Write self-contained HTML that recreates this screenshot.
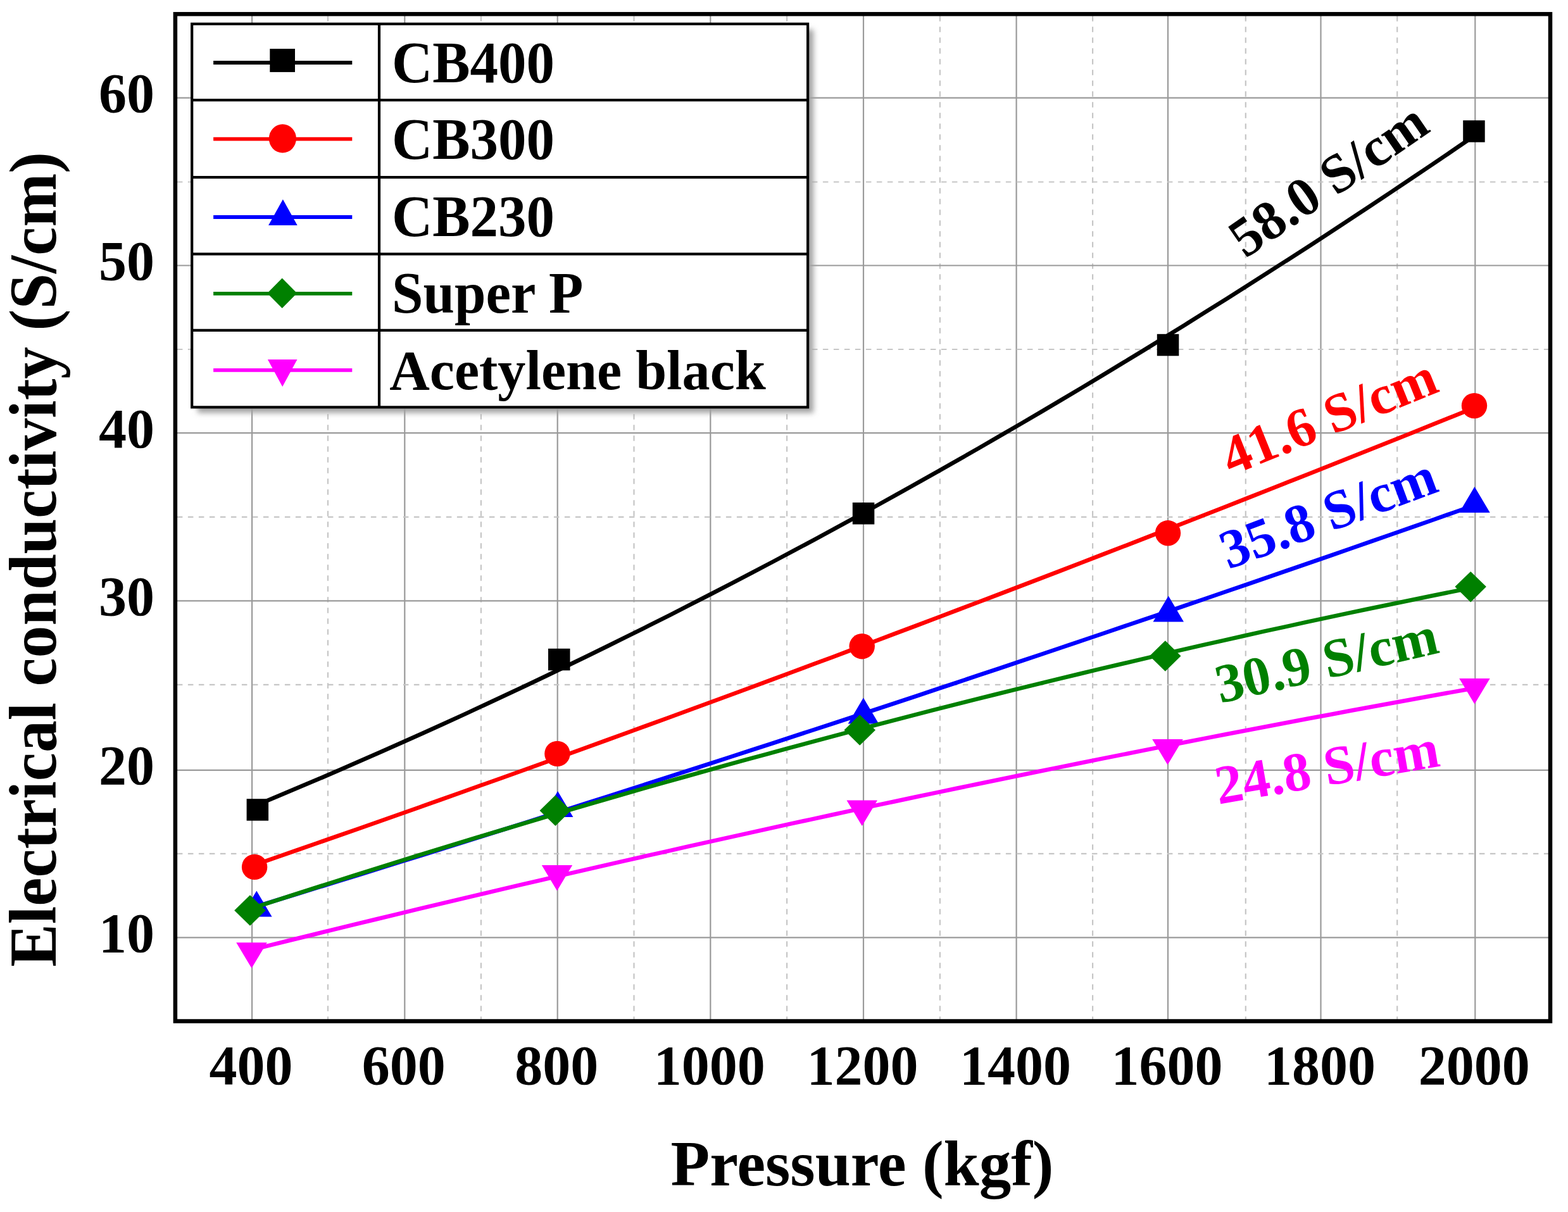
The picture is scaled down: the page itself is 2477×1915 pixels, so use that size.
<!DOCTYPE html>
<html><head><meta charset="utf-8"><title>Electrical conductivity vs pressure</title>
<style>html,body{margin:0;padding:0;background:#fff;overflow:hidden}svg{display:block}</style>
</head><body>
<svg width="2477" height="1915" viewBox="0 0 2477 1915">
<defs><filter id="sh" x="-5%" y="-5%" width="110%" height="110%"><feGaussianBlur stdDeviation="4.5"/></filter></defs>
<style>
.gs{stroke:#9a9a9a;stroke-width:2.2}
.gd{stroke:#c6c6c6;stroke-width:2.2;stroke-dasharray:8.5 8.5}
text{font-family:'Liberation Serif', 'Times New Roman', serif;font-weight:bold}
.tick{font-size:88px}
.title{font-size:101px}
.leg{font-size:89px}
.ann{font-size:87px}
</style>
<rect width="2477" height="1915" fill="#fff"/>
<line x1="398.1" y1="22.2" x2="398.1" y2="1613.5" class="gs"/>
<line x1="518.0" y1="25.2" x2="518.0" y2="1613.5" class="gd"/>
<line x1="639.3" y1="22.2" x2="639.3" y2="1613.5" class="gs"/>
<line x1="759.9" y1="25.2" x2="759.9" y2="1613.5" class="gd"/>
<line x1="880.7" y1="22.2" x2="880.7" y2="1613.5" class="gs"/>
<line x1="1001.5" y1="25.2" x2="1001.5" y2="1613.5" class="gd"/>
<line x1="1122.3" y1="22.2" x2="1122.3" y2="1613.5" class="gs"/>
<line x1="1243.1" y1="25.2" x2="1243.1" y2="1613.5" class="gd"/>
<line x1="1364.0" y1="22.2" x2="1364.0" y2="1613.5" class="gs"/>
<line x1="1484.9" y1="25.2" x2="1484.9" y2="1613.5" class="gd"/>
<line x1="1605.6" y1="22.2" x2="1605.6" y2="1613.5" class="gs"/>
<line x1="1726.1" y1="25.2" x2="1726.1" y2="1613.5" class="gd"/>
<line x1="1845.0" y1="22.2" x2="1845.0" y2="1613.5" class="gs"/>
<line x1="1967.8" y1="25.2" x2="1967.8" y2="1613.5" class="gd"/>
<line x1="2086.5" y1="22.2" x2="2086.5" y2="1613.5" class="gs"/>
<line x1="2207.2" y1="25.2" x2="2207.2" y2="1613.5" class="gd"/>
<line x1="2330.3" y1="22.2" x2="2330.3" y2="1613.5" class="gs"/>
<line x1="276.9" y1="1481.4" x2="2449.0" y2="1481.4" class="gs"/>
<line x1="279.9" y1="1348.8" x2="2449.0" y2="1348.8" class="gd"/>
<line x1="276.9" y1="1216.8" x2="2449.0" y2="1216.8" class="gs"/>
<line x1="279.9" y1="1081.8" x2="2449.0" y2="1081.8" class="gd"/>
<line x1="276.9" y1="949.3" x2="2449.0" y2="949.3" class="gs"/>
<line x1="279.9" y1="816.8" x2="2449.0" y2="816.8" class="gd"/>
<line x1="276.9" y1="684.2" x2="2449.0" y2="684.2" class="gs"/>
<line x1="279.9" y1="552.0" x2="2449.0" y2="552.0" class="gd"/>
<line x1="276.9" y1="419.5" x2="2449.0" y2="419.5" class="gs"/>
<line x1="279.9" y1="287.5" x2="2449.0" y2="287.5" class="gd"/>
<line x1="276.9" y1="154.6" x2="2449.0" y2="154.6" class="gs"/>
<polyline points="406.9,1271.4 439.5,1257.8 472.0,1244.1 504.6,1230.3 537.2,1216.3 569.7,1202.1 602.3,1187.8 634.9,1173.3 667.4,1158.7 700.0,1144.0 732.6,1129.1 765.1,1114.0 797.7,1098.8 830.3,1083.5 862.8,1068.0 895.4,1052.3 928.0,1036.5 960.6,1020.5 993.1,1004.4 1025.7,988.2 1058.3,971.8 1090.8,955.2 1123.4,938.5 1156.0,921.7 1188.5,904.7 1221.1,887.5 1253.7,870.2 1286.2,852.8 1318.8,835.2 1351.4,817.4 1383.9,799.5 1416.5,781.4 1449.1,763.2 1481.6,744.9 1514.2,726.4 1546.8,707.7 1579.3,688.9 1611.9,670.0 1644.5,650.9 1677.0,631.6 1709.6,612.2 1742.2,592.6 1774.7,572.9 1807.3,553.1 1839.9,533.1 1872.5,512.9 1905.0,492.6 1937.6,472.2 1970.2,451.6 2002.7,430.8 2035.3,409.9 2067.9,388.9 2100.4,367.7 2133.0,346.3 2165.6,324.8 2198.1,303.1 2230.7,281.3 2263.3,259.4 2295.8,237.3 2328.4,215.0" fill="none" stroke="#000000" stroke-width="6.5" stroke-linejoin="round"/>
<rect x="389.6" y="1262.2" width="34.5" height="34.5" fill="#000000"/>
<rect x="866.0" y="1024.8" width="34.5" height="34.5" fill="#000000"/>
<rect x="1346.8" y="794.0" width="34.5" height="34.5" fill="#000000"/>
<rect x="1827.8" y="527.8" width="34.5" height="34.5" fill="#000000"/>
<rect x="2311.2" y="190.2" width="34.5" height="34.5" fill="#000000"/>
<polyline points="402.1,1366.6 434.8,1355.3 467.4,1343.9 500.1,1332.5 532.7,1321.1 565.4,1309.7 598.1,1298.2 630.7,1286.7 663.4,1275.2 696.0,1263.6 728.7,1252.0 761.4,1240.3 794.0,1228.7 826.7,1217.0 859.3,1205.3 892.0,1193.5 924.6,1181.7 957.3,1169.9 990.0,1158.0 1022.6,1146.1 1055.3,1134.2 1087.9,1122.2 1120.6,1110.3 1153.3,1098.2 1185.9,1086.2 1218.6,1074.1 1251.2,1062.0 1283.9,1049.8 1316.6,1037.7 1349.2,1025.4 1381.9,1013.2 1414.5,1000.9 1447.2,988.6 1479.9,976.3 1512.5,963.9 1545.2,951.5 1577.8,939.1 1610.5,926.6 1643.2,914.1 1675.8,901.6 1708.5,889.0 1741.1,876.4 1773.8,863.8 1806.5,851.1 1839.1,838.4 1871.8,825.7 1904.4,813.0 1937.1,800.2 1969.7,787.4 2002.4,774.5 2035.1,761.6 2067.7,748.7 2100.4,735.8 2133.0,722.8 2165.7,709.8 2198.4,696.7 2231.0,683.7 2263.7,670.5 2296.3,657.4 2329.0,644.2" fill="none" stroke="#ff0000" stroke-width="6.5" stroke-linejoin="round"/>
<circle cx="402.1" cy="1369.9" r="20.2" fill="#ff0000"/>
<circle cx="880.4" cy="1190.9" r="20.2" fill="#ff0000"/>
<circle cx="1361.7" cy="1021.2" r="20.2" fill="#ff0000"/>
<circle cx="1845.0" cy="842.3" r="20.2" fill="#ff0000"/>
<circle cx="2329.0" cy="641.1" r="20.2" fill="#ff0000"/>
<polyline points="405.3,1432.1 437.9,1422.1 470.5,1412.1 503.1,1402.0 535.7,1391.9 568.4,1381.8 601.0,1371.7 633.6,1361.5 666.2,1351.3 698.8,1341.1 731.4,1330.9 764.0,1320.6 796.6,1310.3 829.3,1300.0 861.9,1289.7 894.5,1279.3 927.1,1268.9 959.7,1258.5 992.3,1248.1 1024.9,1237.6 1057.5,1227.1 1090.1,1216.6 1122.8,1206.1 1155.4,1195.5 1188.0,1184.9 1220.6,1174.3 1253.2,1163.7 1285.8,1153.0 1318.4,1142.3 1351.0,1131.6 1383.7,1120.8 1416.3,1110.1 1448.9,1099.3 1481.5,1088.4 1514.1,1077.6 1546.7,1066.7 1579.3,1055.8 1611.9,1044.9 1644.6,1034.0 1677.2,1023.0 1709.8,1012.0 1742.4,1001.0 1775.0,989.9 1807.6,978.9 1840.2,967.8 1872.8,956.6 1905.4,945.5 1938.1,934.3 1970.7,923.1 2003.3,911.9 2035.9,900.6 2068.5,889.4 2101.1,878.1 2133.7,866.7 2166.3,855.4 2199.0,844.0 2231.6,832.6 2264.2,821.2 2296.8,809.7 2329.4,798.2" fill="none" stroke="#0000ff" stroke-width="6.5" stroke-linejoin="round"/>
<polygon points="405.3,1407.5 429.6,1448.5 381.1,1448.5" fill="#0000ff"/>
<polygon points="881.1,1250.1 905.4,1291.1 856.9,1291.1" fill="#0000ff"/>
<polygon points="1363.9,1102.5 1388.2,1143.5 1339.7,1143.5" fill="#0000ff"/>
<polygon points="1845.8,941.4 1870.0,982.4 1821.5,982.4" fill="#0000ff"/>
<polygon points="2329.4,769.1 2353.7,810.1 2305.2,810.1" fill="#0000ff"/>
<polyline points="395.0,1436.1 427.7,1425.5 460.4,1414.9 493.0,1404.4 525.7,1394.0 558.4,1383.6 591.1,1373.3 623.8,1363.1 656.5,1352.9 689.1,1342.9 721.8,1332.9 754.5,1322.9 787.2,1313.1 819.9,1303.3 852.5,1293.6 885.2,1283.9 917.9,1274.3 950.6,1264.8 983.3,1255.4 1015.9,1246.0 1048.6,1236.7 1081.3,1227.5 1114.0,1218.3 1146.7,1209.2 1179.4,1200.2 1212.0,1191.3 1244.7,1182.4 1277.4,1173.6 1310.1,1164.8 1342.8,1156.2 1375.4,1147.6 1408.1,1139.1 1440.8,1130.6 1473.5,1122.2 1506.2,1113.9 1538.8,1105.7 1571.5,1097.5 1604.2,1089.4 1636.9,1081.4 1669.6,1073.4 1702.3,1065.5 1734.9,1057.7 1767.6,1050.0 1800.3,1042.3 1833.0,1034.7 1865.7,1027.2 1898.3,1019.7 1931.0,1012.3 1963.7,1005.0 1996.4,997.7 2029.1,990.6 2061.7,983.4 2094.4,976.4 2127.1,969.4 2159.8,962.5 2192.5,955.7 2225.2,949.0 2257.8,942.3 2290.5,935.6 2323.2,929.1" fill="none" stroke="#008000" stroke-width="6.5" stroke-linejoin="round"/>
<polygon points="395.0,1414.3 419.8,1438.6 395.0,1462.8 370.2,1438.6" fill="#008000"/>
<polygon points="877.4,1256.5 902.1,1280.7 877.4,1305.0 852.6,1280.7" fill="#008000"/>
<polygon points="1358.2,1129.3 1383.0,1153.6 1358.2,1177.8 1333.5,1153.6" fill="#008000"/>
<polygon points="1840.8,1012.2 1865.5,1036.4 1840.8,1060.7 1816.0,1036.4" fill="#008000"/>
<polygon points="2323.2,902.9 2347.9,927.1 2323.2,951.4 2298.4,927.1" fill="#008000"/>
<polyline points="397.5,1500.8 430.2,1492.6 463.0,1484.5 495.7,1476.5 528.5,1468.4 561.2,1460.4 594.0,1452.5 626.7,1444.6 659.5,1436.7 692.2,1428.9 724.9,1421.1 757.7,1413.3 790.4,1405.6 823.2,1397.9 855.9,1390.3 888.7,1382.7 921.4,1375.1 954.1,1367.6 986.9,1360.1 1019.6,1352.7 1052.4,1345.3 1085.1,1337.9 1117.9,1330.6 1150.6,1323.3 1183.4,1316.1 1216.1,1308.9 1248.8,1301.7 1281.6,1294.6 1314.3,1287.5 1347.1,1280.4 1379.8,1273.4 1412.6,1266.5 1445.3,1259.5 1478.1,1252.6 1510.8,1245.8 1543.5,1239.0 1576.3,1232.2 1609.0,1225.5 1641.8,1218.8 1674.5,1212.1 1707.3,1205.5 1740.0,1198.9 1772.8,1192.4 1805.5,1185.9 1838.2,1179.4 1871.0,1173.0 1903.7,1166.6 1936.5,1160.3 1969.2,1154.0 2002.0,1147.7 2034.7,1141.5 2067.4,1135.3 2100.2,1129.2 2132.9,1123.0 2165.7,1117.0 2198.4,1111.0 2231.2,1105.0 2263.9,1099.0 2296.7,1093.1 2329.4,1087.2" fill="none" stroke="#ff00ff" stroke-width="6.5" stroke-linejoin="round"/>
<polygon points="373.2,1489.3 421.8,1489.3 397.5,1529.8" fill="#ff00ff"/>
<polygon points="855.8,1366.9 904.2,1366.9 880.0,1407.4" fill="#ff00ff"/>
<polygon points="1337.5,1264.6 1386.0,1264.6 1361.8,1305.1" fill="#ff00ff"/>
<polygon points="1820.2,1167.9 1868.8,1167.9 1844.5,1208.4" fill="#ff00ff"/>
<polygon points="2305.2,1072.0 2353.7,1072.0 2329.4,1112.5" fill="#ff00ff"/>
<text x="0" y="0" transform="translate(2114.6,307.8) rotate(-34.5)" text-anchor="middle" fill="#000000" class="ann">58.0 S/cm</text>
<text x="0" y="0" transform="translate(2110.3,684.9) rotate(-22.0)" text-anchor="middle" fill="#ff0000" class="ann">41.6 S/cm</text>
<text x="0" y="0" transform="translate(2108.1,837.7) rotate(-20.3)" text-anchor="middle" fill="#0000ff" class="ann">35.8 S/cm</text>
<text x="0" y="0" transform="translate(2101.9,1071.1) rotate(-13.0)" text-anchor="middle" fill="#008000" class="ann">30.9 S/cm</text>
<text x="0" y="0" transform="translate(2100.9,1240.5) rotate(-9.7)" text-anchor="middle" fill="#ff00ff" class="ann">24.8 S/cm</text>
<rect x="312.2" y="46.8" width="972.8999999999999" height="605.6" fill="#a2a2a2" filter="url(#sh)"/>
<rect x="303.2" y="37.8" width="972.8999999999999" height="605.6" fill="#fff" stroke="#000" stroke-width="4.2"/>
<line x1="303.2" y1="158.1" x2="1276.1" y2="158.1" stroke="#000" stroke-width="4.2"/>
<line x1="303.2" y1="280.2" x2="1276.1" y2="280.2" stroke="#000" stroke-width="4.2"/>
<line x1="303.2" y1="401.4" x2="1276.1" y2="401.4" stroke="#000" stroke-width="4.2"/>
<line x1="303.2" y1="521.9" x2="1276.1" y2="521.9" stroke="#000" stroke-width="4.2"/>
<line x1="599.0" y1="37.8" x2="599.0" y2="643.4" stroke="#000" stroke-width="4.2"/>
<line x1="337.1" y1="99.0" x2="556.3" y2="99.0" stroke="#000000" stroke-width="5.8"/>
<rect x="426.3" y="77.1" width="39.7" height="36.8" fill="#000000"/>
<text x="0" y="0" transform="translate(619,130.0) scale(1,1.045)" class="leg">CB400</text>
<line x1="337.1" y1="219.6" x2="556.3" y2="219.6" stroke="#ff0000" stroke-width="5.8"/>
<ellipse cx="446.4" cy="218.9" rx="21.6" ry="22.6" fill="#ff0000"/>
<text x="0" y="0" transform="translate(619,251.4) scale(1,1.045)" class="leg">CB300</text>
<line x1="337.1" y1="343.0" x2="556.3" y2="343.0" stroke="#0000ff" stroke-width="5.8"/>
<polygon points="446.9,314.9 469.7,356.1 424.1,356.1" fill="#0000ff"/>
<text x="0" y="0" transform="translate(619,372.7) scale(1,1.045)" class="leg">CB230</text>
<line x1="337.1" y1="463.8" x2="556.3" y2="463.8" stroke="#008000" stroke-width="5.8"/>
<polygon points="445.7,439.5 469.2,463.3 445.7,487.1 422.2,463.3" fill="#008000"/>
<text x="0" y="0" transform="translate(619,494.1) scale(1,1.045)" class="leg">Super P</text>
<line x1="337.1" y1="584.8" x2="556.3" y2="584.8" stroke="#ff00ff" stroke-width="5.8"/>
<polygon points="422.9,568.1 469.5,568.1 446.2,611.0" fill="#ff00ff"/>
<text x="0" y="0" transform="translate(615.2,614.9) scale(0.99,1.0)" class="leg">Acetylene black</text>
<rect x="276.9" y="22.2" width="2172.1" height="1591.3" fill="none" stroke="#000" stroke-width="6.5"/>
<text x="396.6" y="1712.5" text-anchor="middle" class="tick">400</text>
<text x="637.8" y="1712.5" text-anchor="middle" class="tick">600</text>
<text x="879.2" y="1712.5" text-anchor="middle" class="tick">800</text>
<text x="1120.8" y="1712.5" text-anchor="middle" class="tick">1000</text>
<text x="1362.5" y="1712.5" text-anchor="middle" class="tick">1200</text>
<text x="1604.1" y="1712.5" text-anchor="middle" class="tick">1400</text>
<text x="1843.5" y="1712.5" text-anchor="middle" class="tick">1600</text>
<text x="2085.0" y="1712.5" text-anchor="middle" class="tick">1800</text>
<text x="2328.8" y="1712.5" text-anchor="middle" class="tick">2000</text>
<text x="244" y="1503.7" text-anchor="end" class="tick">10</text>
<text x="244" y="1239.1" text-anchor="end" class="tick">20</text>
<text x="244" y="971.6" text-anchor="end" class="tick">30</text>
<text x="244" y="706.5" text-anchor="end" class="tick">40</text>
<text x="244" y="441.8" text-anchor="end" class="tick">50</text>
<text x="244" y="176.9" text-anchor="end" class="tick">60</text>
<text x="1362" y="1872.6" text-anchor="middle" class="title">Pressure (kgf)</text>
<text x="0" y="0" transform="translate(87.8,883.9) rotate(-90) scale(1,1.045)" text-anchor="middle" class="title" style="font-size:101.7px">Electrical conductivity (S/cm)</text>
</svg>
</body></html>
